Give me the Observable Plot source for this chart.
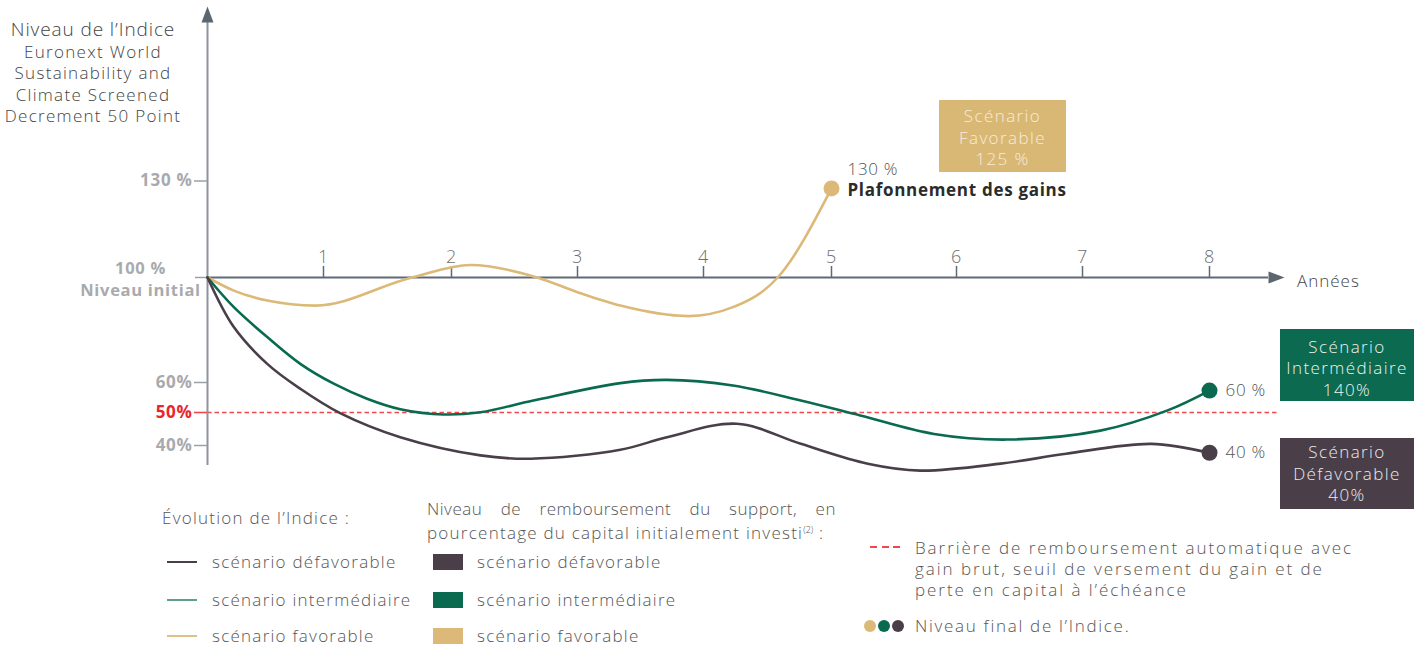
<!DOCTYPE html>
<html><head><meta charset="utf-8">
<script src="https://cdn.jsdelivr.net/npm/d3@7"></script>
<script src="https://cdn.jsdelivr.net/npm/@observablehq/plot@0.6"></script>
<style>
body{margin:0;background:#fff;font-family:"Open Sans",sans-serif;font-weight:300;}
#wrap{position:relative;width:1424px;height:648px;overflow:hidden;}
#chart{position:absolute;left:0;top:0;}
.t{position:absolute;white-space:nowrap;line-height:20px;color:#555;font-size:17px;letter-spacing:1.25px;}
.box{position:absolute;text-align:center;font-size:17px;letter-spacing:1.4px;line-height:21.5px;display:flex;flex-direction:column;justify-content:center;box-sizing:border-box;}
.sw{position:absolute;}
</style></head><body><div id="wrap"><div id="chart"></div></div>
<script>
// ---- data ----
const xTickYears = [1, 2, 3, 4, 5, 6, 7, 8];
const yTickValues = [130, 60, 40];
const yTickLabels = ["130 %", "60%", "40%"];
const barrierLevel = 50;
const barrierLabel = "50%";
const initialLevel = 100;
const initialLabel = "100 %\nNiveau initial";

const favYears  = [0, 0.227, 0.515, 0.93, 1.69, 2.15, 2.68, 3.0, 3.34, 3.88, 4.23, 4.58, 5];
const favLevels = [100, 95.0, 91.2, 89.3, 100, 103.9, 100, 94.4, 89.3, 85.3, 88.7, 100, 127.7];

const intYears  = [0, 0.227, 0.515, 0.8, 1.08, 1.34, 1.6, 1.94, 2.23, 2.65, 3.34, 3.71, 4.23, 4.76, 5.23, 5.82, 6.4, 7.14, 7.67, 8];
const intLevels = [100, 88.7, 77.3, 67.1, 59.6, 54.6, 51.1, 49.4, 50.1, 54, 59.8, 61.0, 59, 54, 49.1, 43.5, 41.8, 44.5, 50.7, 57.3];

const defYears  = [0, 0.227, 0.515, 0.8, 1.13, 1.6, 2.23, 2.63, 3.34, 3.71, 4.26, 4.76, 5.29, 5.71, 6.35, 6.87, 7.54, 8];
const defLevels = [100, 81.1, 67.1, 57.9, 49.8, 42.5, 37.0, 36.0, 38.7, 42.5, 46.6, 40.5, 34.5, 32.4, 34.5, 37.5, 40.5, 37.8];

const scenarios = ["favorable", "intermédiaire", "défavorable"];
const endLabels = ["130 %", "60 %", "40 %"];
const capLabel = "Plafonnement des gains";
const boxLabels = [["Scénario", "Favorable", "125 %"], ["Scénario", "Intermédiaire", "140%"], ["Scénario", "Défavorable", "40%"]];

// ---- build ----
const colors = {"favorable": "#dcb978", "intermédiaire": "#0a6a4f", "défavorable": "#4a3e48"};
const series = [
  ...favYears.map((t, i) => ({scenario: "favorable", year: t, level: favLevels[i]})),
  ...intYears.map((t, i) => ({scenario: "intermédiaire", year: t, level: intLevels[i]})),
  ...defYears.map((t, i) => ({scenario: "défavorable", year: t, level: defLevels[i]}))
];
const ends = scenarios.map((s, i) => {
  const pts = series.filter(d => d.scenario === s);
  return {...pts[pts.length - 1], label: endLabels[i]};
});
const favEnd = ends.filter(d => d.scenario === "favorable");
const otherEnds = ends.filter(d => d.scenario !== "favorable");

const W = 1424, H = 490, mTop = 22, mBottom = 25, mLeft = 207, mRight = 156;
const yDomain = [30, 40, 50, 60, 100, 130, 180];
const yRange = [478, 445, 412, 382, 277, 180.5, 18.5];
const xDomain = [0, 1, 2, 3, 4, 5, 6, 7, 8, 8.5];
const xRange = [207, 323, 451, 577, 703, 831, 956, 1082, 1209, 1272];
const yAt = d3.scaleLinear(yDomain, yRange);

const arrowUp = {draw(c) { c.moveTo(0, -16); c.lineTo(6, 0); c.lineTo(-6, 0); c.closePath(); }};
const arrowRight = {draw(c) { c.moveTo(16, 0); c.lineTo(0, -6); c.lineTo(0, 6); c.closePath(); }};

const chart = Plot.plot({
  width: W, height: H,
  marginTop: mTop, marginBottom: mBottom, marginLeft: mLeft, marginRight: mRight,
  x: {type: "linear", domain: xDomain, range: xRange},
  y: {type: "linear", domain: yDomain, range: yRange},
  style: {fontFamily: "'Open Sans', sans-serif", background: "transparent", letterSpacing: "0.7px"},
  marks: [
    Plot.ruleY([barrierLevel], {x1: 0, x2: 8.55, stroke: "#f0474c", strokeWidth: 1.6, strokeDasharray: "4.5,3"}),
    Plot.ruleX([0], {stroke: "#8d949b", strokeWidth: 2}),
    Plot.dot([0], {x: d => d, frameAnchor: "top", symbol: arrowUp, fill: "#5c6670", stroke: null, r: 6}),
    Plot.ruleY([initialLevel], {stroke: "#5f6a74", strokeWidth: 2}),
    Plot.dot([initialLevel], {y: d => d, frameAnchor: "right", symbol: arrowRight, fill: "#5c6670", stroke: null, r: 6}),
    Plot.axisX(xTickYears, {anchor: "top", dy: yAt(initialLevel) - mTop, tickSize: 12, tickPadding: 3, tickFormat: d => String(d),
      stroke: "#5f6a74", strokeWidth: 1.5, fill: "#6f6f6f", fontSize: 18, fontWeight: 300, label: null}),
    Plot.axisY(yTickValues, {anchor: "left", tickSize: 13, tickPadding: 2, tickFormat: (d) => yTickLabels[yTickValues.indexOf(d)],
      stroke: "#9aa0a6", strokeWidth: 1.5, fill: "#a8aaad", fontSize: 17, fontWeight: "bold", label: null}),
    Plot.axisY([barrierLevel], {anchor: "left", tickSize: 13, tickPadding: 2, tickFormat: () => barrierLabel,
      stroke: "#f0474c", strokeWidth: 1.6, fill: "#e8262b", fontSize: 17, fontWeight: "bold", label: null}),
    Plot.axisY([initialLevel], {anchor: "left", tickSize: 12, tickFormat: () => "", stroke: "#9aa0a6", strokeWidth: 1.5, label: null}),
    Plot.text([initialLevel], {x: () => 0, y: d => d, text: () => initialLabel, textAnchor: "middle", dx: -67, lineHeight: 1.35,
      fill: "#a8aaad", fontSize: 16.5, fontWeight: "bold"}),
    Plot.line(series.filter(d => d.scenario === "favorable"), {x: "year", y: "level", stroke: colors["favorable"], strokeWidth: 2.6, curve: "monotone-x"}),
    Plot.line(series.filter(d => d.scenario !== "favorable"), {x: "year", y: "level", z: "scenario", stroke: d => colors[d.scenario], strokeWidth: 2.6, curve: "catmull-rom"}),
    Plot.dot(ends, {x: "year", y: "level", r: 8, fill: d => colors[d.scenario], stroke: null}),
    Plot.text(otherEnds, {x: "year", y: "level", text: "label", textAnchor: "start", dx: 16, fill: "#555", fontSize: 17, fontWeight: 300}),
    Plot.text(favEnd, {x: "year", y: "level", text: "label", textAnchor: "start", dx: 16, dy: -19, fill: "#555", fontSize: 17, fontWeight: 300}),
    Plot.text(favEnd, {x: "year", y: "level", text: () => capLabel, textAnchor: "start",
      dx: 16, dy: 2, fill: "#2b2b2b", fontSize: 17, fontWeight: "bold"})
  ]
});
document.getElementById("chart").appendChild(chart);

// ---- overlays (titles, boxes, legend) ----
const wrap = document.getElementById("wrap");
function add(html, style, cls = "t") {
  const d = document.createElement("div");
  d.className = cls; d.innerHTML = html; Object.assign(d.style, style); wrap.appendChild(d); return d;
}
add("Niveau de l’Indice", {left: "0px", width: "186px", textAlign: "center", top: "19px", fontSize: "19px", letterSpacing: "0.9px", color: "#444"});
add("Euronext World<br>Sustainability and<br>Climate Screened<br>Decrement 50 Point",
  {left: "0px", width: "186px", textAlign: "center", top: "41px", lineHeight: "21.4px", letterSpacing: "1.3px", color: "#444"});
add("Années", {left: "1297px", top: "271px", letterSpacing: "1px", color: "#444"});

const boxPos = [
  {left: "939px", top: "100px", width: "127px", height: "72px", paddingTop: "3px", background: "#d9b876", color: "#f6ecd9"},
  {left: "1280px", top: "329px", width: "134px", height: "72px", paddingTop: "6px", background: "#0b6a50", color: "#eef3f1"},
  {left: "1280px", top: "438px", width: "134px", height: "71px", background: "#4a3e48", color: "#eeeaec"}
];
boxLabels.forEach((lines, i) => add(lines.map(l => `<div>${l}</div>`).join(""), boxPos[i], "box"));

add("Évolution de l’Indice :", {left: "162px", top: "508px"});
const lineSw = ["#4a3e48", "#5e9f8c", "#e0c089"];
const sqSw = ["#4a3e48", "#0a6a4f", "#dcb978"];
const legNames = ["scénario défavorable", "scénario intermédiaire", "scénario favorable"];
const legY = [562, 600, 636];
legNames.forEach((n, i) => {
  add("", {left: "167px", top: (legY[i] - 1) + "px", width: "30px", height: "2.4px", background: lineSw[i]}, "sw");
  add(n, {left: "212px", top: (legY[i] - 10) + "px"});
  add("", {left: "433px", top: (legY[i] - 8) + "px", width: "30px", height: "16px", background: sqSw[i]}, "sw");
  add(n, {left: "477px", top: (legY[i] - 10) + "px"});
});
add("Niveau de remboursement du support, en", {left: "427px", top: "499px", width: "409px", textAlign: "justify", textAlignLast: "justify", whiteSpace: "normal", letterSpacing: "0.5px"});
add("pourcentage du capital initialement investi<sup style='font-size:9px;vertical-align:6px;letter-spacing:0'>(2)</sup> :", {left: "427px", top: "520px"});

add("", {left: "870px", top: "546px", width: "30px", height: "2px", background: "repeating-linear-gradient(90deg,#f0474c 0 7px,transparent 7px 11.5px)"}, "sw");
add("Barrière de remboursement automatique avec<br>gain brut, seuil de versement du gain et de<br>perte en capital à l’échéance",
  {left: "915px", top: "537px", lineHeight: "21px", letterSpacing: "1.95px"});
[["#dcb978", 864], ["#0a6a4f", 878], ["#4a3e48", 892]].forEach(([c, x]) =>
  add("", {left: x + "px", top: "620px", width: "12px", height: "12px", borderRadius: "50%", background: c}, "sw"));
add("Niveau final de l’Indice.", {left: "915px", top: "616px", letterSpacing: "1.7px"});
</script></body></html>
